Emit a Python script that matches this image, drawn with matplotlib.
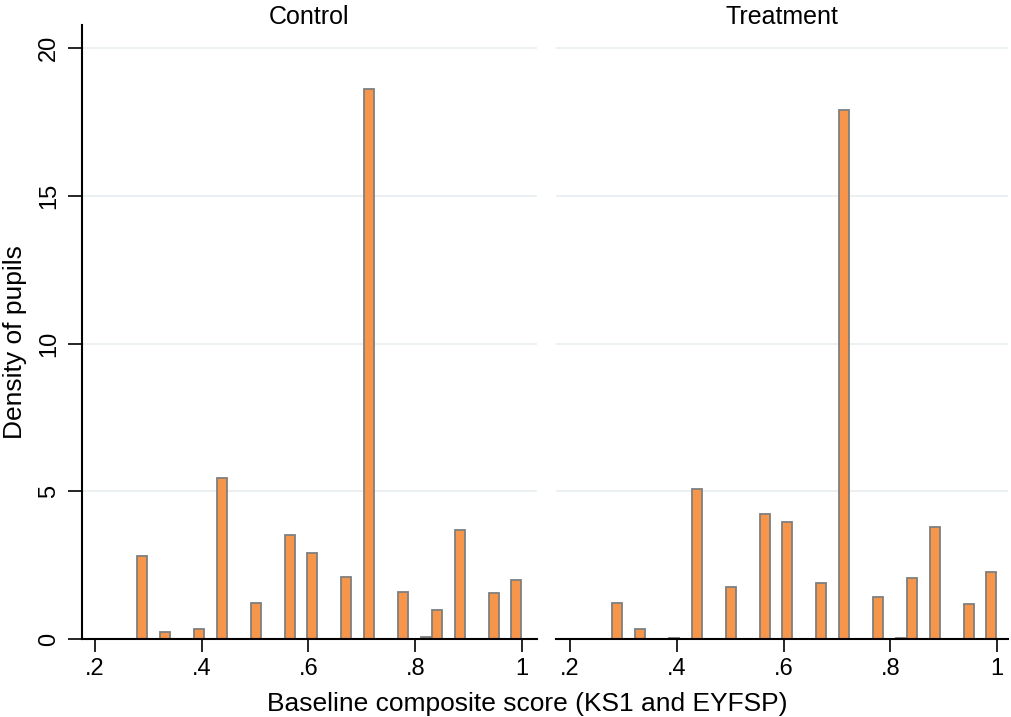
import numpy as np
import matplotlib
matplotlib.use("Agg")
import matplotlib.pyplot as plt

plt.rcParams['font.family'] = ['Liberation Sans', 'DejaVu Sans']

# Histogram bins shared by both groups
bin_start = 0.2778
bin_end = 1.0
n_bins = 34

# Density per bin (zero where a bin is empty)
control_density = [2.81, 0, 0.23, 0, 0, 0.34, 0, 5.44, 0, 0,
                   1.23, 0, 0, 3.52, 0, 2.90, 0, 0, 2.11, 0,
                   18.60, 0, 0, 1.59, 0, 0.06, 0.99, 0, 3.69, 0,
                   0, 1.57, 0, 2.00]
treatment_density = [1.21, 0, 0.35, 0, 0, 0.04, 0, 5.08, 0, 0,
                     1.77, 0, 0, 4.22, 0, 3.95, 0, 0, 1.88, 0,
                     17.90, 0, 0, 1.42, 0, 0.05, 2.05, 0, 3.80, 0,
                     0, 1.17, 0, 2.28]

panel_titles = ["Control", "Treatment"]
x_ticks = [0.2, 0.4, 0.6, 0.8, 1.0]
x_tick_labels = [".2", ".4", ".6", ".8", "1"]
y_ticks = [0, 5, 10, 15, 20]
y_tick_labels = ["0", "5", "10", "15", "20"]
x_label = "Baseline composite score (KS1 and EYFSP)"
y_label = "Density of pupils"

W, H = 1011, 717
fig = plt.figure(figsize=(W / 100, H / 100), dpi=100)

edges = np.linspace(bin_start, bin_end, n_bins + 1)
centers = (edges[:-1] + edges[1:]) / 2
bw = edges[1] - edges[0]

bar_fill = "#F7964A"
bar_edge = "#7f7f7f"
grid_col = "#e8eff1"

# panel pixel boxes: left, right, top, bottom
boxes = [(82, 537, 25, 639), (556, 1008, 25, 639)]
xlims = [(0.2 + (82 - 95) / 533.75, 0.2 + (537 - 95) / 533.75),
         (0.2 + (556 - 570) / 533.75, 0.2 + (1008 - 570) / 533.75)]
ytop = (639 - 25) / 29.55

for i, (dens, title) in enumerate(zip([control_density, treatment_density], panel_titles)):
    l, r, t, b = boxes[i]
    ax = fig.add_axes([l / W, 1 - b / H, (r - l) / W, (b - t) / H])
    dens = np.asarray(dens, dtype=float)
    keep = dens > 0
    ax.bar(centers[keep], dens[keep], width=bw * 0.88, color=bar_fill,
           edgecolor=bar_edge, linewidth=1.3, zorder=3)
    ax.set_xlim(*xlims[i])
    ax.set_ylim(0, ytop)
    for yv in y_ticks[1:]:
        ax.axhline(yv, color=grid_col, linewidth=1.2, zorder=1)
    ax.set_xticks(x_ticks)
    ax.set_xticklabels(x_tick_labels, fontsize=17)
    ax.tick_params(axis='x', length=9, width=1.2, pad=5, color='black')
    for s in ["top", "right"]:
        ax.spines[s].set_visible(False)
    ax.spines["bottom"].set_linewidth(1.5)
    ax.spines["bottom"].set_zorder(4)
    if i == 0:
        ax.spines["left"].set_linewidth(1.5)
        ax.set_yticks(y_ticks)
        ax.set_yticklabels(y_tick_labels, fontsize=17, rotation=90, va='center')
        ax.tick_params(axis='y', length=10, width=1.2, pad=6)
    else:
        ax.spines["left"].set_visible(False)
        ax.set_yticks([])
    fig.text((l + r) / 2 / W, 1 - 17 / H, title, fontsize=18,
             ha='center', va='center')
    ax.set_facecolor("white")

fig.text(15 / W, 1 - 342 / H, y_label, fontsize=19, rotation=90,
         ha='center', va='center')
fig.text(527 / W, 1 - 704 / H, x_label, fontsize=19, ha='center', va='center')

fig.savefig("out.png", dpi=100, facecolor="white")
